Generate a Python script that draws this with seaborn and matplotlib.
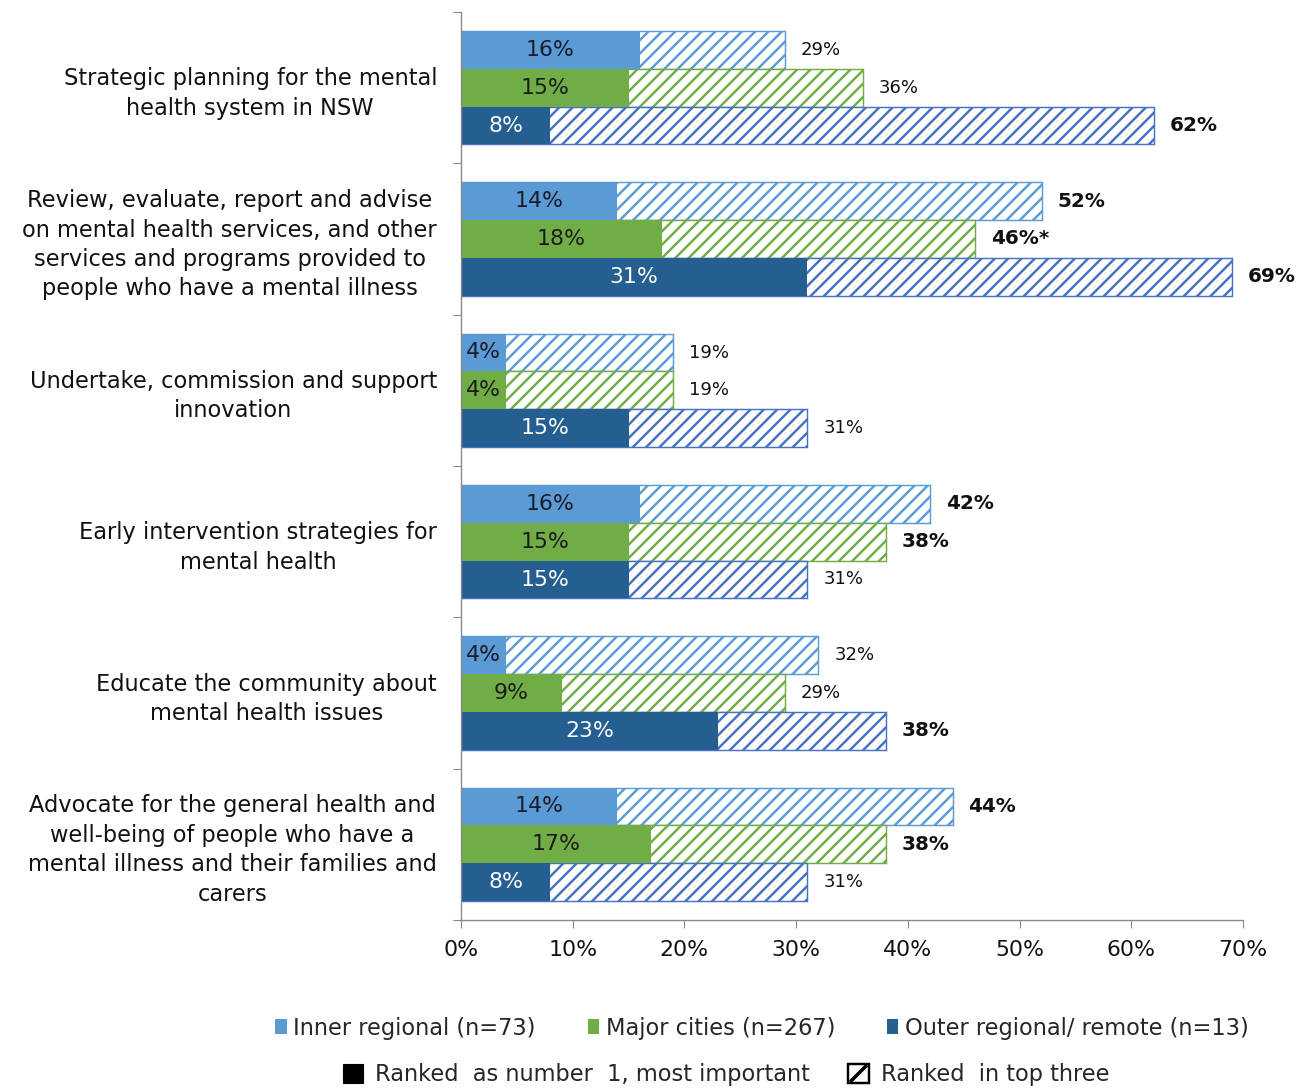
import matplotlib
matplotlib.use("Agg")
import matplotlib.pyplot as plt
from matplotlib.patches import Patch
from matplotlib.lines import Line2D
from matplotlib.path import Path
from matplotlib.legend_handler import HandlerTuple
from matplotlib.ticker import FixedLocator, PercentFormatter
import seaborn as sns
import pandas as pd

# ---- data -------------------------------------------------------------
categories = [
    "Strategic planning for the mental\nhealth system in NSW",
    "Review, evaluate, report and advise\non mental health services, and other\nservices and programs provided to\npeople who have a mental illness",
    "Undertake, commission and support\ninnovation",
    "Early intervention strategies for\nmental health",
    "Educate the community about\nmental health issues",
    "Advocate for the general health and\nwell-being of people who have a\nmental illness and their families and\ncarers",
]
regions = ["Inner regional (n=73)", "Major cities (n=267)", "Outer regional/ remote (n=13)"]

# ranked as number 1, most important (%)
rank1_inner = [16, 14, 4, 16, 4, 14]
rank1_major = [15, 18, 4, 15, 9, 17]
rank1_outer = [8, 31, 15, 15, 23, 8]

# ranked in top three (%)
top3_inner = [29, 52, 19, 42, 32, 44]
top3_major = [36, 46, 19, 38, 29, 38]
top3_outer = [62, 69, 31, 31, 38, 31]

# label suffixes and emphasis for the top-three values
top3_suffix_major = ["", "*", "", "", "", ""]
top3_bold_inner = [False, True, False, True, False, True]
top3_bold_major = [False, True, False, True, False, True]
top3_bold_outer = [True, True, False, False, True, False]

solid_colors = ["#5B9BD5", "#70AD47", "#255E91"]
hatch_colors = ["#5B9BD5", "#70AD47", "#4472C4"]
rank1_text_colors = ["#1b1b2a", "#1b1b1b", "white"]

rows = []
for region, r1, t3 in zip(regions,
                          [rank1_inner, rank1_major, rank1_outer],
                          [top3_inner, top3_major, top3_outer]):
    for cat, a, b in zip(categories, r1, t3):
        rows.append({"category": cat, "region": region, "rank1": a, "top3": b})
df = pd.DataFrame(rows)

# ---- style ------------------------------------------------------------
sns.set_style("white")
plt.rcParams["font.family"] = ["DejaVu Sans"]
plt.rcParams["hatch.linewidth"] = 2.2

DPI = 80
PX = 72 / DPI  # points per pixel
fig = plt.figure(figsize=(1301 / DPI, 1090 / DPI), dpi=DPI)
ax = fig.add_axes([461 / 1301, 1 - 920 / 1090, (1243 - 461) / 1301, (920 - 12) / 1090])

# top-three layer (hatched outlines)
sns.barplot(data=df, y="category", x="top3", hue="region", hue_order=regions,
            order=categories, orient="h", width=0.75, saturation=1,
            palette=dict(zip(regions, ["white"] * 3)), errorbar=None,
            legend=False, ax=ax)
# number-one layer (solid)
sns.barplot(data=df, y="category", x="rank1", hue="region", hue_order=regions,
            order=categories, orient="h", width=0.75, saturation=1,
            palette=dict(zip(regions, solid_colors)), errorbar=None,
            legend=False, ax=ax)

hatched = ax.containers[:3]
solid = ax.containers[3:6]
for cont, hc in zip(hatched, hatch_colors):
    for p in cont:
        p.set_facecolor("white")
        p.set_edgecolor(hc)
        p.set_hatch("//")
        p.set_linewidth(1.3)
for cont in solid:
    for p in cont:
        p.set_edgecolor("none")

# value labels
top3_vals = [top3_inner, top3_major, top3_outer]
top3_bold = [top3_bold_inner, top3_bold_major, top3_bold_outer]
top3_suffix = [[""] * 6, top3_suffix_major, [""] * 6]
for cont, vals, bold, suf in zip(hatched, top3_vals, top3_bold, top3_suffix):
    for p, v, b, s in zip(cont, vals, bold, suf):
        y = p.get_y() + p.get_height() / 2
        x = p.get_x() + p.get_width()
        ax.annotate(f"{v}%{s}", (x, y), xytext=(16 * PX, 0), textcoords="offset points",
                    va="center", ha="left", color="#111111",
                    fontsize=(20 if b else 18) * PX,
                    fontweight="bold" if b else "normal")

rank1_vals = [rank1_inner, rank1_major, rank1_outer]
for cont, vals, tc in zip(solid, rank1_vals, rank1_text_colors):
    ax.bar_label(cont, labels=[f"{v}%" for v in vals], label_type="center",
                 color=tc, fontsize=22 * PX)

# axes
ax.set_xlim(0, 70)
ax.set_ylim(5.5, -0.5)
ax.xaxis.set_major_locator(FixedLocator(range(0, 71, 10)))
ax.xaxis.set_major_formatter(PercentFormatter(decimals=0))
ax.set_xlabel("")
ax.set_ylabel("")
ax.set_yticks(range(len(categories)))
ax.set_yticklabels(categories, ma="center", linespacing=1.36)
ax.yaxis.set_minor_locator(FixedLocator([i - 0.5 for i in range(len(categories) + 1)]))
ax.tick_params(axis="y", which="major", length=0, pad=24 * PX, labelsize=22.5 * PX,
               labelcolor="#111111")
ax.tick_params(axis="y", which="minor", length=7, width=1, color="#888888", left=True)
ax.tick_params(axis="x", which="major", length=7, width=1, color="#888888", bottom=True,
               labelsize=22 * PX, labelcolor="#111111", pad=12 * PX)
for side in ["top", "right"]:
    ax.spines[side].set_visible(False)
for side in ["left", "bottom"]:
    ax.spines[side].set_color("#888888")
    ax.spines[side].set_linewidth(1.2)
ax.grid(False)

# legends
region_handles = [Patch(facecolor=c, edgecolor="none") for c in solid_colors]
fig.legend(region_handles, regions, loc="center",
           bbox_to_anchor=(762 / 1301, 1 - 1028 / 1090), ncol=3, frameon=False,
           fontsize=22.5 * PX, handlelength=0.5, handleheight=0.6, handletextpad=0.3,
           columnspacing=2.3)

diagonal = Path([(-1, -1), (1, 1)], [Path.MOVETO, Path.LINETO])
hatch_box = (Patch(facecolor="white", edgecolor="black", linewidth=2.2),
             Line2D([], [], linestyle="none", marker=diagonal, markersize=15,
                    markeredgewidth=3.2, color="black"))
rank_handles = [Patch(facecolor="black", edgecolor="black"), hatch_box]
fig.legend(rank_handles, ["Ranked  as number  1, most important", "Ranked  in top three"],
           loc="center", bbox_to_anchor=(726 / 1301, 1 - 1075 / 1090), ncol=2,
           frameon=False, fontsize=22.5 * PX, handlelength=0.9, handleheight=0.9,
           handletextpad=0.55, columnspacing=1.7,
           handler_map={tuple: HandlerTuple(ndivide=1, pad=0)})

fig.savefig("out.png", dpi=DPI, facecolor="white")
